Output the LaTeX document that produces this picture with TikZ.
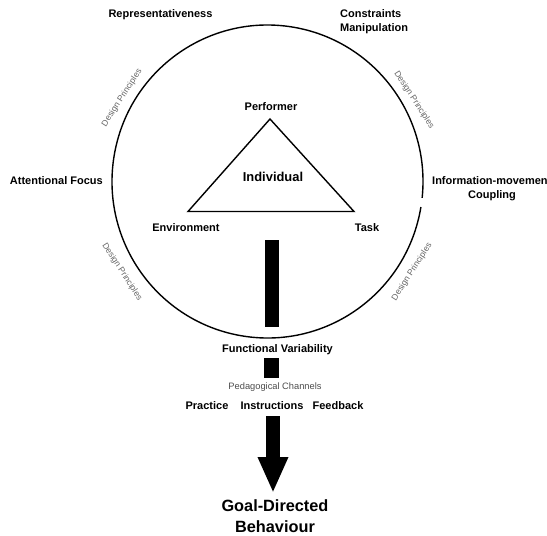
\documentclass[tikz,border=0pt]{standalone}
\usepackage{fontspec}
\setmainfont{Liberation Sans}
\usetikzlibrary{arrows.meta}

\tikzset{
  lbl/.style={font=\bfseries\fontsize{11}{13.5}\selectfont, inner sep=0pt},
  dp/.style={font=\fontsize{8.6}{10}\selectfont, text=black!60, inner sep=0pt},
  bigarrow/.style={line width=14pt, -{Triangle[length=36pt,width=28pt]}},
}

\begin{document}
\begin{tikzpicture}[x=1pt,y=-1pt]
  \useasboundingbox (0,0) rectangle (547,536);

  % circle of design principles (small break on the right)
  \coordinate (mid) at (267.5,181.5);
  \draw [line width=1.4pt] (mid) ++(9.4:155.5 and 156.5)
    arc [start angle=9.4, end angle=366, x radius=155.5, y radius=156.5];

  \node [lbl] (repr) at (160.5,15) {Representativeness};
  \node [lbl, anchor=west, align=left] (cons) at (340,21.5) {Constraints\\Manipulation};
  \node [lbl, anchor=east] (focus) at (103,181) {Attentional Focus};
  \node [lbl, anchor=west] (info) at (432,181) {Information-movemen};
  \node [lbl] (coup) at (492,196) {Coupling};

  \node [dp, rotate=57] (dp1) at (122,98) {Design Principles};
  \node [dp, rotate=-57] (dp2) at (414,100) {Design Principles};
  \node [dp, rotate=-57] (dp3) at (122,272) {Design Principles};
  \node [dp, rotate=57] (dp4) at (412,272) {Design Principles};

  % individual
  \coordinate (top) at (270,119);
  \coordinate (left) at (188,211.5);
  \coordinate (right) at (354,211.5);
  \draw [line width=1.4pt] (top) -- (left) -- (right) -- cycle;

  \node [lbl] (perf) at (271,107) {Performer};
  \node [lbl, font=\bfseries\fontsize{12.9}{15}\selectfont] (indiv) at (273,177) {Individual};
  \node [lbl] (env) at (186,227.5) {Environment};
  \node [lbl] (task) at (367,227.5) {Task};

  % channels
  \fill (264.5,240) rectangle (278.5,327);
  \node [lbl] (func) at (277.5,350) {Functional Variability};
  \fill (264,358) rectangle (279,378);
  \node [dp, font=\fontsize{9.3}{11}\selectfont, text=black!70] (ped) at (275,387) {Pedagogical Channels};

  \node [lbl] (prac) at (207,406) {Practice};
  \node [lbl] (instr) at (272,406) {Instructions};
  \node [lbl] (feed) at (338,406) {Feedback};

  \coordinate (a) at (273,416);
  \coordinate (b) at (273,493);
  \draw [bigarrow] (a) -- (b);

  \node [lbl, font=\bfseries\fontsize{16.3}{21}\selectfont, align=center] (goal) at (275,516.5) {Goal-Directed\\Behaviour};

\end{tikzpicture}
\end{document}
